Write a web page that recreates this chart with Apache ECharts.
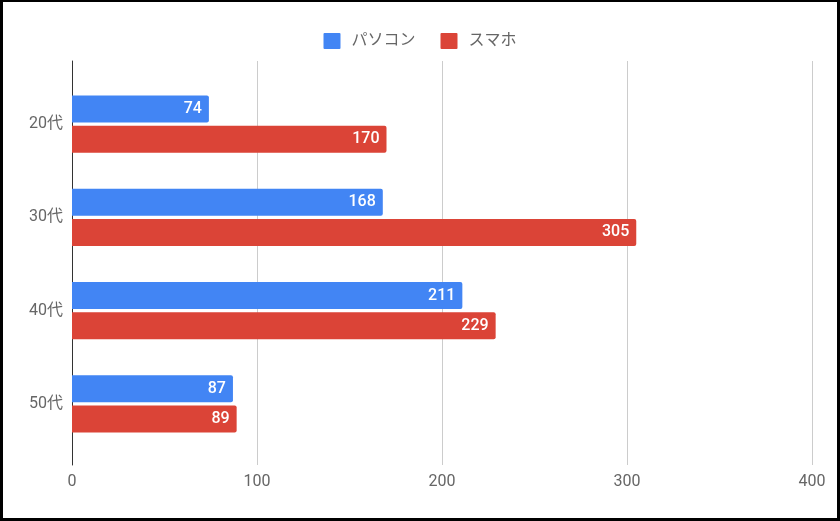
<!DOCTYPE html>
<html>
<head>
<meta charset="utf-8">
<script src="https://cdn.jsdelivr.net/npm/echarts@6/dist/echarts.min.js"></script>
<style>
html,body{margin:0;padding:0;background:#fff;}
#wrap{position:relative;width:840px;height:521px;}
#chart{position:absolute;left:0;top:0;width:840px;height:521px;}
#frame{position:absolute;left:0;top:0;width:840px;height:521px;box-sizing:border-box;border:3px solid #000;border-top-width:2px;pointer-events:none;}
</style>
</head>
<body>
<div id="wrap"><div id="chart"></div><div id="frame"></div></div>
<script>
const categories = ['20代', '30代', '40代', '50代'];
const seriesNames = ['パソコン', 'スマホ'];
const pcValues = [74, 168, 211, 87];
const phoneValues = [170, 305, 229, 89];
const xTicks = [0, 100, 200, 300, 400];

const FONT = 'Roboto, "Noto Sans CJK JP", sans-serif';
const chart = echarts.init(document.getElementById('chart'), null, {renderer: 'canvas'});

const labelCfg = {
  show: true,
  position: 'insideRight',
  distance: 7,
  color: '#fff',
  fontSize: 16,
  fontWeight: 500,
  fontFamily: FONT
};

chart.setOption({
  animation: false,
  legend: {
    data: seriesNames,
    top: 28,
    left: 'center',
    itemWidth: 17,
    itemHeight: 16,
    itemGap: 25,
    icon: 'path://M1,0 L16,0 Q17,0 17,1 L17,15 Q17,16 16,16 L1,16 Q0,16 0,15 L0,1 Q0,0 1,0 Z',
    textStyle: {color: '#666', fontSize: 16, fontFamily: FONT, padding: [0, 0, 0, 6]}
  },
  grid: [
    {left: 72, right: 28, top: 61, bottom: 56},
    {left: 72, right: 28, top: 77.5, height: 373}
  ],
  xAxis: [
    {
      gridIndex: 0, type: 'value', min: xTicks[0], max: xTicks[xTicks.length - 1], interval: 100,
      axisLine: {show: false}, axisTick: {show: false},
      axisLabel: {color: '#666', fontSize: 16, fontFamily: FONT, margin: 9},
      splitLine: {show: true, lineStyle: {color: '#ccc', width: 1}}
    },
    {
      gridIndex: 1, type: 'value', min: xTicks[0], max: xTicks[xTicks.length - 1], show: false
    }
  ],
  yAxis: [
    {
      gridIndex: 0, type: 'value', min: 0, max: 1,
      axisLine: {show: true, lineStyle: {color: '#333', width: 1}},
      axisTick: {show: false}, axisLabel: {show: false}, splitLine: {show: false}
    },
    {
      gridIndex: 1, type: 'category', data: categories, inverse: true,
      axisLine: {show: false}, axisTick: {show: false},
      axisLabel: {color: '#666', fontSize: 16, fontFamily: FONT, margin: 9},
      splitLine: {show: false}
    }
  ],
  series: [
    {
      name: seriesNames[0], type: 'bar', xAxisIndex: 1, yAxisIndex: 1,
      data: pcValues, barWidth: 27, barGap: '12%',
      itemStyle: {color: '#4285F4', borderRadius: [0, 2, 2, 0]},
      label: labelCfg
    },
    {
      name: seriesNames[1], type: 'bar', xAxisIndex: 1, yAxisIndex: 1,
      data: phoneValues, barWidth: 27, barGap: '12%',
      itemStyle: {color: '#DB4437', borderRadius: [0, 2, 2, 0]},
      label: labelCfg
    }
  ]
});
</script>
</body>
</html>
